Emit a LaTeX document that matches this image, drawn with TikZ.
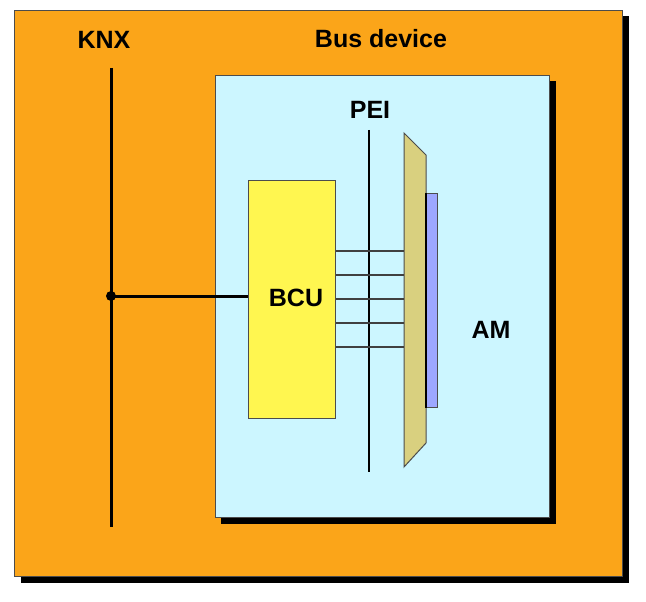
\documentclass[tikz,border=0pt]{standalone}
\usepackage{fontspec}
\setmainfont{Liberation Sans}
\usepackage{tikz}
\usetikzlibrary{shadows, positioning, calc}
\definecolor{knxorange}{HTML}{FBA519}
\definecolor{devblue}{HTML}{CCF6FF}
\definecolor{bcuyellow}{HTML}{FFF650}
\definecolor{peitan}{HTML}{D9D07F}
\definecolor{ambar}{HTML}{9DA7FF}
\tikzstyle{wire} = [draw=black!75, line width=1.2pt]

\begin{document}
\begin{tikzpicture}[
  x=1pt, y=-1pt,
  font=\fontsize{25}{30}\selectfont\bfseries,
  panel/.style={draw=black!70, line width=1pt, anchor=north west, inner sep=0pt,
    drop shadow={shadow xshift=6pt, shadow yshift=-6pt, fill=black, opacity=1}},
  label/.style={inner sep=0pt},
  bus/.style={line width=3pt}
]
\useasboundingbox (0,0) rectangle (646,602);

% Outer frame and bus device
\node[panel, fill=knxorange, minimum width=608pt, minimum height=566pt] (frame) at (14,10) {};
\node[panel, fill=devblue, minimum width=334pt, minimum height=442pt, drop shadow={shadow xshift=5pt, shadow yshift=-6pt, fill=black, opacity=1}] (device) at (215,75) {};

% BCU
\node[draw=black!70, fill=bcuyellow, line width=1pt, anchor=north west, minimum width=87pt, minimum height=238pt, inner sep=0pt] (bcu) at (248,180) {};
\node[label] (bcutxt) at (296,298) {BCU};

% PEI line
\coordinate (peitop) at (369,130);
\coordinate (peibot) at (369,472);
\draw[line width=1.2pt] (peitop) -- (peibot);

% Application module adapter
\draw[draw=black!70, fill=peitan, line width=1pt] (404,133) -- (426,155) -- (426,443) -- (404,467) -- cycle;
\coordinate (adapter) at (404,299);
\node[draw=black!70, fill=ambar, line width=1pt, anchor=north west, minimum width=11pt, minimum height=214pt, inner sep=0pt] (am) at (426,193) {};
\draw[line width=2pt] (am.north west) -- (am.south west);

% wires BCU -> PEI
\foreach \y in {251,275,299,323,347}
  \draw[wire] (bcu.east |- 0,\y) -- (adapter |- 0,\y);

% KNX bus line
\coordinate (knxtop) at (111,68);
\coordinate (knxbot) at (111,527);
\coordinate (tap) at (111,296);
\draw[bus] (knxtop) -- (knxbot);
\draw[bus] (tap) -- (bcu.west |- tap);
\fill (tap) circle (5pt);

% Labels
\node[label] (knx) at (104,40) {KNX};
\node[label] (bus) at (381,39) {Bus device};
\node[label] (pei) at (370,110) {PEI};
\node[label] (amtxt) at (491,330) {AM};

\end{tikzpicture}
\end{document}
